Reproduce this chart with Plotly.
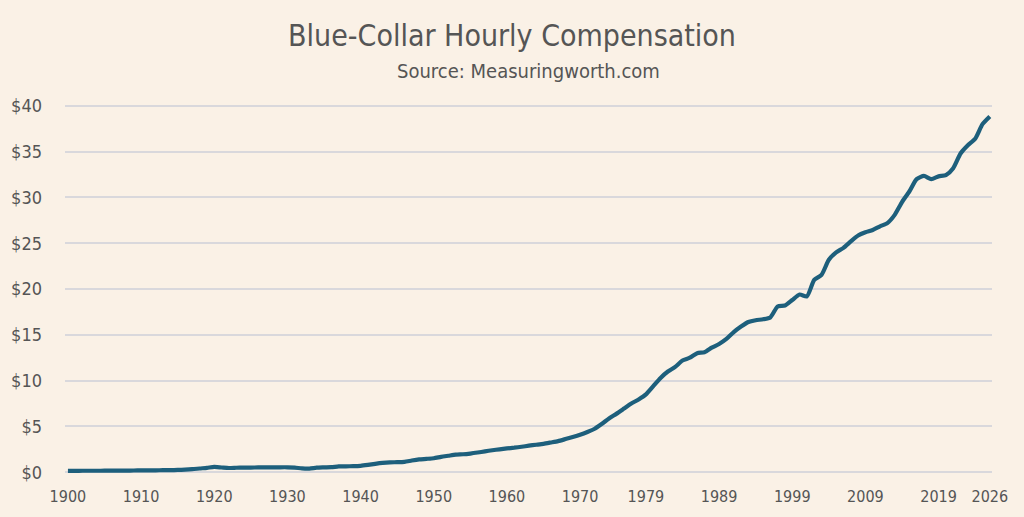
import plotly.graph_objects as go

# ==============================
# DATOS
# ==============================

years = list(range(1900, 2027))

wage = [
    0.15, 0.15, 0.16, 0.16, 0.16, 0.17, 0.17, 0.18, 0.18, 0.19,  # 1900s
    0.20, 0.20, 0.21, 0.22, 0.23, 0.25, 0.28, 0.33, 0.41, 0.48,  # 1910s
    0.58, 0.52, 0.46, 0.49, 0.51, 0.51, 0.52, 0.53, 0.53, 0.54,  # 1920s
    0.54, 0.51, 0.42, 0.40, 0.50, 0.53, 0.55, 0.64, 0.65, 0.66,  # 1930s
    0.70, 0.80, 0.92, 1.02, 1.08, 1.10, 1.14, 1.28, 1.40, 1.46,  # 1940s
    1.53, 1.68, 1.80, 1.92, 1.96, 2.04, 2.15, 2.28, 2.40, 2.50,  # 1950s
    2.60, 2.68, 2.78, 2.90, 3.00, 3.10, 3.25, 3.40, 3.62, 3.85,  # 1960s
    4.10, 4.40, 4.75, 5.30, 5.90, 6.40, 6.95, 7.50, 7.95, 8.50,  # 1970s
    9.40, 10.30, 11.00, 11.50, 12.20, 12.50, 13.00, 13.10, 13.60, 14.00,  # 1980s
    14.55, 15.30, 15.90, 16.40, 16.60, 16.70, 16.90, 18.10, 18.20, 18.80,  # 1990s
    19.40, 19.20, 21.00, 21.55, 23.20, 24.00, 24.50, 25.20, 25.85, 26.20,  # 2000s
    26.45, 26.85, 27.20, 28.10, 29.50, 30.65, 32.00, 32.35, 32.00, 32.30,  # 2010s
    32.45, 33.20, 34.80, 35.70, 36.40, 38.00, 38.85,  # 2020s
]

x_ticks = [1900, 1910, 1920, 1930, 1940, 1950, 1960, 1970,
           1979, 1989, 1999, 2009, 2019, 2026]
y_ticks = [0, 5, 10, 15, 20, 25, 30, 35, 40]
y_labels = ["$0", "$5", "$10", "$15", "$20", "$25", "$30", "$35", "$40"]

title_text = "Blue-Collar Hourly Compensation"
subtitle_text = "Source: Measuringworth.com"

# ==============================
# ESTILO
# ==============================

FONT = "DejaVu Sans Condensed, Liberation Sans Narrow, sans-serif"
BG = "#faf1e6"
TEXT = "#555555"
LINE = "#1d5f7c"
GRID = "#d9d8dc"


def grafico():
    fig = go.Figure()

    fig.add_trace(go.Scatter(
        x=years,
        y=wage,
        mode="lines",
        line=dict(color=LINE, width=4.2, shape="spline", smoothing=0.6),
        hoverinfo="x+y",
    ))

    fig.update_layout(
        width=1024,
        height=517,
        paper_bgcolor=BG,
        plot_bgcolor=BG,
        showlegend=False,
        margin=dict(l=65, r=32, t=101, b=40),
        font=dict(family=FONT, color=TEXT),
        title=dict(
            text=title_text,
            x=0.5,
            xanchor="center",
            y=1 - 35 / 517,
            yanchor="middle",
            font=dict(family=FONT, size=30, color=TEXT),
        ),
        annotations=[dict(
            text=subtitle_text,
            xref="paper", yref="paper",
            x=0.5, y=(477 - 71) / 376,
            xanchor="center", yanchor="middle",
            showarrow=False,
            font=dict(family=FONT, size=20, color=TEXT),
        )],
    )

    fig.update_xaxes(
        range=[1899.6, 2026.3],
        tickvals=x_ticks,
        ticktext=[str(v) for v in x_ticks],
        showgrid=False,
        zeroline=False,
        showline=False,
        ticks="",
        ticklabelstandoff=8,
        tickfont=dict(family=FONT, size=16, color=TEXT),
    )

    fig.update_yaxes(
        range=[-0.52, 40.53],
        tickvals=y_ticks,
        ticktext=y_labels,
        showgrid=True,
        gridcolor=GRID,
        gridwidth=1.5,
        zeroline=False,
        showline=False,
        ticks="",
        ticklabelstandoff=22,
        tickfont=dict(family=FONT, size=18, color=TEXT),
    )

    return fig


def main():
    fig = grafico()
    # quitar el margen por defecto del body para que la figura ocupe la ventana
    fig.write_html(
        "out.html",
        config={"displayModeBar": False},
        post_script="document.body.style.margin='0';",
    )


if __name__ == "__main__":
    main()
